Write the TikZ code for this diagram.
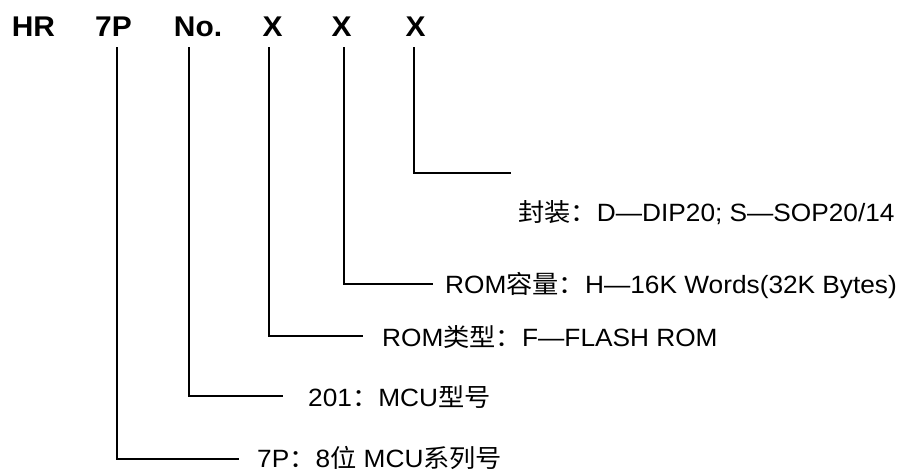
\documentclass[tikz,border=0pt]{standalone}
\usepackage{fontspec}
\setmainfont{Liberation Sans}[FakeStretch=1.05]
\newfontfamily\cjk{Noto Sans CJK SC}[FakeStretch=1.05]
\usetikzlibrary{calc}
\tikzset{code/.style={anchor=base,inner sep=0pt,font=\fontsize{28.5}{32}\selectfont\bfseries},
 desc/.style={anchor=west,inner sep=0pt,font=\fontsize{25}{30}\selectfont},
 lead/.style={line width=1.8pt}}

\begin{document}
\begin{tikzpicture}[x=1pt,y=-1pt]
\useasboundingbox (0,0) rectangle (902,472);
% part number fields
\node[code] (hr) at (33.5,36) {HR};
\node[code] (p7) at (113.5,36) {7P};
\node[code] (no) at (198,36) {No.};
\node[code] (xa) at (272.5,36) {X};
\node[code] (xb) at (341.5,36) {X};
\node[code] (xc) at (415.5,36) {X};
% meanings
\node[desc] (pkg) at (518,213) {{\cjk 封装：}D—DIP20; S—SOP20/14};
\node[desc] (cap) at (445,285) {ROM{\cjk 容量：}H—16K Words(32K Bytes)};
\node[desc] (typ) at (382,337) {ROM{\cjk 类型：}F—FLASH ROM};
\node[desc] (num) at (308,397) {201{\cjk ：}MCU{\cjk 型号}};
\node[desc] (ser) at (257,458) {7P{\cjk ：}8{\cjk 位} MCU{\cjk 系列号}};
\coordinate (pkgend) at (511,173);
% leaders
\draw[lead] ([xshift=-1.5pt,yshift=-11pt]xc.south) |- (pkgend);
\draw[lead] ([xshift=2.5pt,yshift=-11pt]xb.south) |- ([xshift=-12pt,yshift=1pt]cap.west);
\draw[lead] ([xshift=-3.5pt,yshift=-11pt]xa.south) |- ([xshift=-19pt,yshift=1pt]typ.west);
\draw[lead] ([xshift=-9pt,yshift=-11pt]no.south) |- ([xshift=-25pt,yshift=1pt]num.west);
\draw[lead] ([xshift=3.5pt,yshift=-11pt]p7.south) |- ([xshift=-18pt,yshift=-1pt]ser.west);
\end{tikzpicture}
\end{document}
